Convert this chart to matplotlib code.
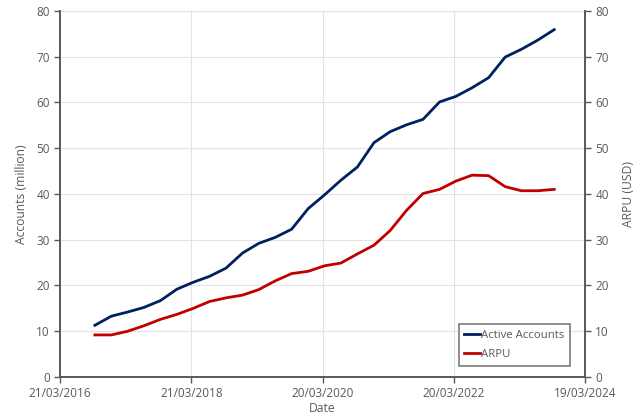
import numpy as np
import pandas as pd
import matplotlib
matplotlib.use("Agg")
import matplotlib.pyplot as plt
import matplotlib.dates as mdates

# quarterly data, Q3 2016 .. Q3 2023
dates = pd.date_range("2016-09-30", "2023-09-30", freq="QE")
active_accounts = [11.3, 13.3, 14.2, 15.2, 16.7, 19.2, 20.7, 22.0, 23.8, 27.1,
                   29.2, 30.5, 32.3, 36.8, 39.8, 43.0, 45.9, 51.2, 53.6, 55.1,
                   56.3, 60.1, 61.3, 63.2, 65.4, 69.9, 71.6, 73.6, 75.9]
arpu = [9.2, 9.2, 10.0, 11.2, 12.6, 13.7, 15.0, 16.5, 17.3, 17.9,
        19.1, 21.0, 22.6, 23.1, 24.3, 24.9, 26.9, 28.8, 32.0, 36.4,
        40.1, 41.0, 42.8, 44.1, 44.0, 41.6, 40.7, 40.7, 41.0]
x_ticks = ["2016-03-21", "2018-03-21", "2020-03-20", "2022-03-20", "2024-03-19"]

plt.rcParams['font.family'] = ['Open Sans', 'DejaVu Sans']
grey = '#595959'

fig = plt.figure(figsize=(6.4, 4.18), dpi=100)
ax = fig.add_axes([0.094, 0.098, 0.820, 0.876])
ax2 = ax.twinx()

l1, = ax.plot(dates, active_accounts, color='#002060', lw=2.0, label='Active Accounts')
l2, = ax2.plot(dates, arpu, color='#C00000', lw=2.0, label='ARPU')

ticks = pd.to_datetime(x_ticks)
ax.set_xlim(ticks[0], ticks[-1])
ax.set_xticks(ticks)
ax.xaxis.set_major_formatter(mdates.DateFormatter('%d/%m/%Y'))
for a in (ax, ax2):
    a.set_ylim(0, 80)
    a.set_yticks(range(0, 81, 10))
    a.tick_params(colors=grey, labelsize=8.5, length=4, width=1)
    for s in a.spines.values():
        s.set_color(grey)
        s.set_linewidth(1.2)
    a.spines['top'].set_visible(False)

ax.grid(True, color='#e3e3e3', lw=0.8)
ax.set_axisbelow(True)

ax.set_xlabel('Date', color=grey, fontsize=8.7, labelpad=1)
ax.set_ylabel('Accounts (million)', color=grey, fontsize=8.7, labelpad=6)
ax2.set_ylabel('ARPU (USD)', color=grey, fontsize=8.7, labelpad=9)

leg = ax2.legend(handles=[l1, l2], loc='lower right', bbox_to_anchor=(0.983, 0.015),
                 fontsize=8.2, fancybox=False, handlelength=1.4, handletextpad=0.1,
                 borderpad=0.5, labelspacing=0.7, labelcolor=grey)
leg.get_frame().set_edgecolor(grey)
leg.get_frame().set_linewidth(1.2)

plt.savefig('out.png', dpi=100)
